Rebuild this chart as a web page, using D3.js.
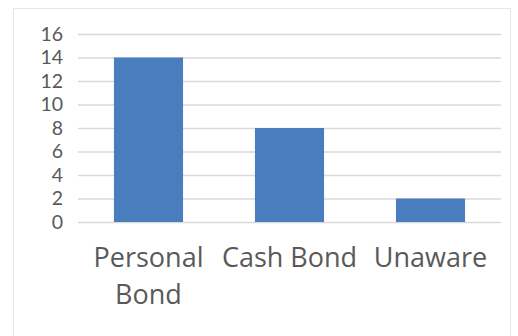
<!DOCTYPE html>
<html>
<head>
<meta charset="utf-8">
<script src="https://cdn.jsdelivr.net/npm/d3@7/dist/d3.min.js"></script>
<style>
  html, body { margin: 0; padding: 0; background: #ffffff; }
  svg { display: block; }
  text { font-family: "Open Sans", "Noto Sans", sans-serif; fill: #595959; }
  .tick text { font-family: Lato, "Open Sans", sans-serif; }
</style>
</head>
<body>
<svg id="chart" width="518" height="336"></svg>
<script>
// Bond type awareness counts
const categories = ["Personal Bond", "Cash Bond", "Unaware"];
const counts = [14, 8, 2];
const yTicks = [0, 2, 4, 6, 8, 10, 12, 14, 16];

const svg = d3.select("#chart");
const plot = { left: 78, right: 501, top: 34, bottom: 222 };

// Chart frame
svg.append("rect")
  .attr("x", 13.5).attr("y", 8.5)
  .attr("width", 497).attr("height", 340)
  .attr("fill", "#ffffff")
  .attr("stroke", "#e6e6e6");

const x = d3.scaleBand()
  .domain(categories)
  .range([plot.left, plot.right])
  .paddingInner(0.51)
  .paddingOuter(0.255);

const y = d3.scaleLinear()
  .domain([0, 16])
  .range([plot.bottom, plot.top]);

// Horizontal gridlines and value axis labels
const yAxis = d3.axisLeft(y)
  .tickValues(yTicks)
  .tickSize(-(plot.right - plot.left))
  .tickPadding(15)
  .tickFormat(d3.format("d"));

const gy = svg.append("g")
  .attr("transform", `translate(${plot.left},0)`)
  .call(yAxis);
gy.select(".domain").remove();
gy.selectAll(".tick line").attr("stroke", "#d9d9d9").attr("stroke-width", 1.5);
gy.selectAll(".tick text")
  .style("font-size", "19.5px")
  .attr("fill", "#595959");

// Bars
svg.append("g")
  .selectAll("rect")
  .data(categories)
  .join("rect")
  .attr("x", d => x(d))
  .attr("width", x.bandwidth())
  .attr("y", (d, i) => y(counts[i]))
  .attr("height", (d, i) => y(0) - y(counts[i]))
  .attr("fill", "#4a7dbd");

// Category labels, wrapped to the band step
const labels = svg.append("g")
  .selectAll("text")
  .data(categories)
  .join("text")
  .attr("text-anchor", "middle")
  .style("font-size", "27px")
  .attr("x", d => x(d) + x.bandwidth() / 2)
  .attr("y", 267);

labels.each(function(d) {
  const t = d3.select(this);
  const words = d.split(" ");
  const maxW = x.step();
  let line = [];
  let lines = [];
  const probe = t.append("tspan");
  words.forEach(w => {
    const trial = line.concat(w).join(" ");
    probe.text(trial);
    if (probe.node().getComputedTextLength() > maxW && line.length) {
      lines.push(line.join(" "));
      line = [w];
    } else {
      line.push(w);
    }
  });
  lines.push(line.join(" "));
  probe.remove();
  const cx = t.attr("x");
  lines.forEach((s, i) => {
    t.append("tspan")
      .attr("x", cx)
      .attr("dy", i === 0 ? 0 : 37)
      .text(s);
  });
});
</script>
</body>
</html>
